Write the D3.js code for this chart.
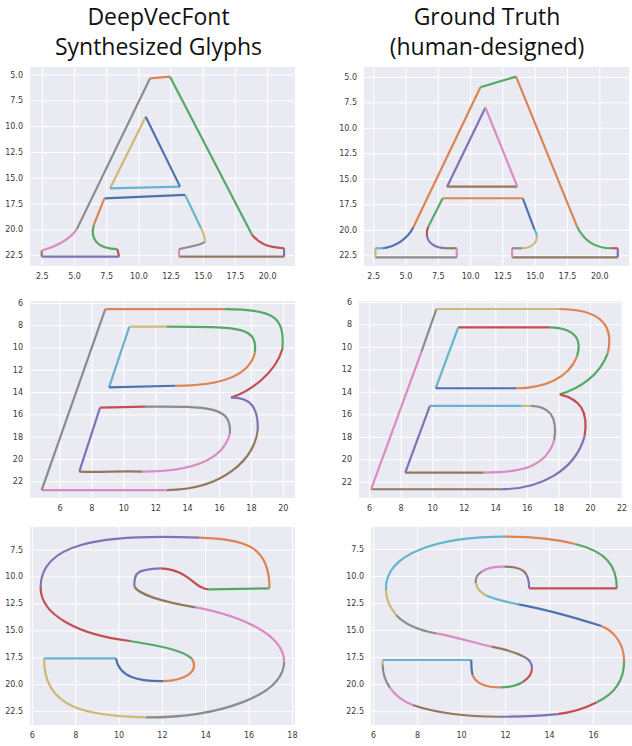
<!DOCTYPE html>
<html>
<head>
<meta charset="utf-8">
<script src="https://cdn.jsdelivr.net/npm/d3@7"></script>
<style>
    body { margin: 0; background: #fff; }
    .tick-label { font-family: "DejaVu Sans", sans-serif; font-size: 8px; fill: #3a3a3a; }
    .title { font-family: "Open Sans", sans-serif; font-size: 23px; fill: #111; }
</style>
</head>
<body>
<div id="chart"></div>
<script>
// seaborn "deep" colour cycle
const palette = ['#4c72b0', '#dd8452', '#55a868', '#c44e52', '#8172b3',
                 '#937860', '#da8bc3', '#8c8c8c', '#ccb974', '#64b5cd'];

const titles = [['DeepVecFont', 'Synthesized Glyphs'], ['Ground Truth', '(human-designed)']];

// outline segments: [colour index, start, (ctrl1, ctrl2,) end]  -- 2 points = line, 4 points = cubic
const synthA = [
    [1, [10.87, 5.32], [12.42, 5.16]],
    [2, [12.42, 5.16], [18.77, 20.43]],
    [3, [18.77, 20.43], [19.3, 21.3], [19.93, 21.68], [21.28, 21.78]],
    [4, [21.28, 21.78], [21.28, 22.6]],
    [5, [21.28, 22.6], [13.12, 22.6]],
    [6, [13.12, 22.6], [13.12, 21.87]],
    [7, [13.12, 21.87], [13.98, 21.6], [15.0, 21.45], [15.14, 21.13]],
    [8, [15.14, 21.13], [15.1, 20.6], [14.95, 20.1], [14.83, 19.84]],
    [9, [14.83, 19.84], [13.59, 16.61]],
    [0, [13.59, 16.61], [7.32, 16.94]],
    [1, [7.32, 16.94], [6.5, 19.52]],
    [2, [6.5, 19.52], [6.2, 20.82], [6.72, 21.87], [8.33, 21.87]],
    [3, [8.33, 21.87], [8.46, 22.6]],
    [4, [8.46, 22.6], [2.45, 22.6]],
    [5, [2.45, 22.6], [2.45, 22.0]],
    [6, [2.45, 22.0], [3.48, 21.7], [4.65, 20.9], [5.17, 19.95]],
    [7, [5.17, 19.95], [10.87, 5.32]],
    [8, [10.53, 9.03], [7.76, 15.97]],
    [9, [7.76, 15.97], [13.2, 15.81]],
    [0, [13.2, 15.81], [10.53, 9.03]]
];

const truthA = [
    [1, [13.52, 4.93], [18.24, 19.64]],
    [2, [18.24, 19.64], [18.81, 21.11], [19.72, 21.76], [20.88, 21.76]],
    [3, [20.88, 21.76], [21.39, 21.76]],
    [4, [21.39, 21.76], [21.39, 22.65]],
    [5, [21.39, 22.65], [13.21, 22.65]],
    [6, [13.21, 22.65], [13.21, 21.76]],
    [7, [13.21, 21.76], [13.98, 21.76]],
    [8, [13.98, 21.76], [14.68, 21.76], [15.12, 21.3], [15.12, 20.6]],
    [9, [15.12, 20.6], [15.12, 20.3], [15.05, 20.1], [14.94, 19.9]],
    [0, [14.94, 19.9], [14.04, 16.86]],
    [1, [14.04, 16.86], [7.84, 16.86]],
    [2, [7.84, 16.86], [6.73, 19.64]],
    [3, [6.73, 19.64], [6.6, 19.95], [6.6, 20.2], [6.62, 20.46]],
    [4, [6.62, 20.46], [6.67, 21.2], [7.2, 21.76], [8.1, 21.76]],
    [5, [8.1, 21.76], [8.93, 21.76]],
    [6, [8.93, 21.76], [8.93, 22.65]],
    [7, [8.93, 22.65], [2.63, 22.65]],
    [8, [2.63, 22.65], [2.63, 21.76]],
    [9, [2.63, 21.76], [3.2, 21.76]],
    [0, [3.2, 21.76], [4.23, 21.6], [5.14, 20.8], [5.57, 19.71]],
    [1, [5.57, 19.71], [10.76, 5.98]],
    [2, [10.76, 5.98], [13.52, 4.93]],
    [4, [11.15, 7.97], [8.18, 15.72]],
    [5, [8.18, 15.72], [13.62, 15.72]],
    [6, [13.62, 15.72], [11.15, 7.97]]
];

const synthB = [
    [1, [8.84, 6.51], [16.34, 6.51]],
    [2, [16.34, 6.51], [19.4, 6.51], [20.1, 7.2], [19.94, 10.1]],
    [3, [19.94, 10.1], [19.5, 12.3], [17.9, 13.9], [16.72, 14.46]],
    [4, [16.72, 14.46], [17.9, 14.4], [18.45, 15.3], [18.39, 17.36]],
    [5, [18.39, 17.36], [18.25, 19.8], [16.3, 22.75], [12.68, 22.75]],
    [6, [12.68, 22.75], [4.85, 22.75]],
    [7, [4.85, 22.75], [8.84, 6.51]],
    [8, [12.68, 8.09], [10.35, 8.09]],
    [9, [10.35, 8.09], [9.07, 13.54]],
    [0, [9.07, 13.54], [13.21, 13.39]],
    [1, [13.21, 13.39], [16.3, 13.4], [17.9, 12.4], [18.22, 10.4]],
    [2, [18.22, 10.4], [18.35, 8.15], [17.5, 8.1], [12.68, 8.09]],
    [3, [11.33, 15.27], [8.51, 15.36]],
    [4, [8.51, 15.36], [7.21, 21.1]],
    [5, [7.21, 21.1], [8.5, 21.2], [9.8, 21.0], [11.18, 21.1]],
    [6, [11.18, 21.1], [14.0, 21.1], [16.2, 20.3], [16.65, 17.66]],
    [7, [16.65, 17.66], [16.75, 15.3], [15.5, 15.22], [11.33, 15.27]]
];

const truthB = [
    [1, [18.01, 6.59], [20.2, 6.6], [21.6, 7.6], [21.09, 10.53]],
    [2, [21.09, 10.53], [20.6, 12.4], [19.4, 13.64], [18.05, 14.18]],
    [3, [18.05, 14.18], [19.3, 14.6], [19.9, 15.6], [19.62, 17.94]],
    [4, [19.62, 17.94], [19.0, 21.0], [16.8, 22.62], [14.28, 22.62]],
    [5, [14.28, 22.62], [6.1, 22.62]],
    [6, [6.1, 22.62], [9.29, 10.39]],
    [7, [9.29, 10.39], [10.24, 6.59]],
    [8, [10.24, 6.59], [18.01, 6.59]],
    [9, [11.62, 8.22], [10.19, 13.64]],
    [0, [10.19, 13.64], [15.29, 13.64]],
    [1, [15.29, 13.64], [17.0, 13.64], [18.6, 12.8], [19.14, 10.83]],
    [2, [19.14, 10.83], [19.45, 9.5], [19.2, 8.3], [17.42, 8.22]],
    [3, [17.42, 8.22], [11.62, 8.22]],
    [4, [9.82, 15.21], [8.26, 21.14]],
    [5, [8.26, 21.14], [13.23, 21.14]],
    [6, [13.23, 21.14], [15.5, 21.14], [17.2, 20.7], [17.7, 18.24]],
    [7, [17.7, 18.24], [17.95, 16.0], [17.3, 15.25], [16.23, 15.21]],
    [8, [16.23, 15.21], [15.64, 15.21]],
    [9, [15.64, 15.21], [9.82, 15.21]]
];

const synthS = [
    [1, [13.69, 6.36], [15.8, 6.55], [16.95, 7.0], [16.94, 11.06]],
    [2, [16.94, 11.06], [14.12, 11.15]],
    [3, [14.12, 11.15], [13.43, 11.06], [13.28, 9.36], [11.92, 9.2]],
    [4, [11.92, 9.2], [10.9, 9.3], [10.66, 9.5], [10.71, 10.9]],
    [5, [10.71, 10.9], [10.9, 11.6], [12.0, 12.3], [13.54, 12.82]],
    [6, [13.54, 12.82], [15.6, 13.6], [17.6, 15.3], [17.62, 17.86]],
    [7, [17.62, 17.86], [17.6, 21.0], [14.6, 23.05], [11.23, 23.03]],
    [8, [11.23, 23.03], [8.6, 22.9], [6.5, 22.3], [6.54, 17.55]],
    [9, [6.54, 17.55], [9.86, 17.55]],
    [0, [9.86, 17.55], [10.0, 19.3], [10.9, 19.7], [12.05, 19.66]],
    [1, [12.05, 19.66], [13.0, 19.6], [13.75, 18.8], [13.35, 17.55]],
    [2, [13.35, 17.55], [12.8, 16.62], [11.43, 16.25], [10.51, 15.94]],
    [3, [10.51, 15.94], [8.2, 15.4], [6.35, 13.6], [6.38, 10.9]],
    [4, [6.38, 10.9], [6.4, 7.0], [9.0, 5.95], [13.69, 6.36]]
];

const truthS = [
    [9, [11.98, 6.33], [9.14, 6.33], [6.48, 7.72], [6.56, 11.26]],
    [1, [11.98, 6.33], [13.23, 6.33], [14.29, 6.55], [15.17, 7.01]],
    [2, [15.17, 7.01], [16.56, 7.7], [17.06, 9.0], [17.06, 11.1]],
    [3, [17.06, 11.1], [13.07, 11.1]],
    [4, [13.07, 11.1], [13.07, 10.6], [13.02, 10.1], [12.95, 9.87]],
    [5, [12.95, 9.87], [12.85, 9.3], [12.47, 9.1], [11.94, 9.1]],
    [6, [11.94, 9.1], [11.41, 9.1], [11.1, 9.25], [10.92, 9.56]],
    [7, [10.92, 9.56], [10.7, 9.8], [10.62, 10.2], [10.65, 10.64]],
    [8, [10.65, 10.64], [10.7, 11.1], [10.85, 11.5], [11.13, 11.78]],
    [9, [11.13, 11.78], [11.6, 12.15], [12.1, 12.4], [12.59, 12.58]],
    [0, [12.59, 12.58], [13.98, 13.1], [15.3, 13.9], [16.36, 14.58]],
    [1, [16.36, 14.58], [16.98, 15.1], [17.39, 16.3], [17.39, 17.82]],
    [2, [17.39, 17.82], [17.39, 19.73], [16.86, 20.96], [16.13, 21.64]],
    [3, [16.13, 21.64], [15.65, 22.13], [15.05, 22.56], [14.36, 22.71]],
    [4, [14.36, 22.71], [13.5, 22.9], [12.6, 22.96], [11.68, 22.96]],
    [5, [11.68, 22.96], [9.89, 22.96], [8.53, 22.4], [7.77, 21.88]],
    [6, [7.77, 21.88], [7.3, 21.5], [6.95, 20.9], [6.74, 20.28]],
    [7, [6.74, 20.28], [6.5, 19.6], [6.41, 18.9], [6.41, 18.12]],
    [8, [6.41, 18.12], [6.41, 17.72]],
    [9, [6.41, 17.72], [10.44, 17.72]],
    [0, [10.44, 17.72], [10.44, 18.4], [10.46, 18.8], [10.5, 19.11]],
    [1, [10.5, 19.11], [10.65, 19.9], [11.1, 20.25], [11.79, 20.25]],
    [2, [11.79, 20.25], [12.2, 20.25], [12.55, 20.05], [12.8, 19.73]],
    [3, [12.8, 19.73], [13.05, 19.4], [13.2, 19.0], [13.2, 18.49]],
    [4, [13.2, 18.49], [13.2, 18.0], [13.1, 17.7], [12.89, 17.48]],
    [5, [12.89, 17.48], [12.5, 17.0], [11.9, 16.7], [11.36, 16.49]],
    [6, [11.36, 16.49], [10.5, 16.1], [9.6, 15.5], [8.83, 15.26]],
    [7, [8.83, 15.26], [8.1, 15.0], [7.4, 14.4], [7.02, 13.57]],
    [8, [7.02, 13.57], [6.75, 12.9], [6.56, 12.2], [6.56, 11.26]]
];

// axis limits and ticks of each panel
const xLims = [[1.54, 22.13], [1.75, 22.26], [4.12, 20.73], [5.33, 22.06], [5.89, 18.12], [5.88, 17.93]];
const yLims = [[4.22, 23.5], [3.99, 23.5], [5.79, 23.46], [5.88, 23.4], [5.37, 23.73], [5.44, 23.72]];
const xTicksA = [2.5, 5, 7.5, 10, 12.5, 15, 17.5, 20];
const yTicksA = [5, 7.5, 10, 12.5, 15, 17.5, 20, 22.5];
const xTicksSynthB = [6, 8, 10, 12, 14, 16, 18, 20];
const xTicksTruthB = [6, 8, 10, 12, 14, 16, 18, 20, 22];
const yTicksB = [6, 8, 10, 12, 14, 16, 18, 20, 22];
const xTicksSynthS = [6, 8, 10, 12, 14, 16, 18];
const xTicksTruthS = [6, 8, 10, 12, 14, 16];
const yTicksS = [7.5, 10, 12.5, 15, 17.5, 20, 22.5];

const width = 632, height = 746;

// pixel boxes of the six axes
const panels = [
    {glyph: synthA, box: [30, 295, 67, 266], xt: xTicksA, yt: yTicksA, xf: '.1f', yf: '.1f'},
    {glyph: truthA, box: [364, 629, 67, 266], xt: xTicksA, yt: yTicksA, xf: '.1f', yf: '.1f'},
    {glyph: synthB, box: [30, 295, 301, 498], xt: xTicksSynthB, yt: yTicksB, xf: 'd', yf: 'd'},
    {glyph: truthB, box: [359, 623, 301, 498], xt: xTicksTruthB, yt: yTicksB, xf: 'd', yf: 'd'},
    {glyph: synthS, box: [30, 295, 527, 725], xt: xTicksSynthS, yt: yTicksS, xf: 'd', yf: '.1f'},
    {glyph: truthS, box: [371, 636, 527, 725], xt: xTicksTruthS, yt: yTicksS, xf: 'd', yf: '.1f'}
];

const svg = d3.select('#chart').append('svg')
    .attr('width', width)
    .attr('height', height);

// column titles
const titleX = [158.5, 487];
titles.forEach((lines, i) => {
    lines.forEach((t, j) => {
        svg.append('text')
            .attr('class', 'title')
            .attr('x', titleX[i])
            .attr('y', 25 + j * 30)
            .attr('text-anchor', 'middle')
            .text(t);
    });
});

panels.forEach((p, i) => {
    const [left, right, top, bottom] = p.box;
    const x = d3.scaleLinear().domain(xLims[i]).range([left, right]);
    const y = d3.scaleLinear().domain(yLims[i]).range([top, bottom]); // inverted y, like the glyph coords

    const g = svg.append('g');

    g.append('rect')
        .attr('x', left).attr('y', top)
        .attr('width', right - left).attr('height', bottom - top)
        .attr('fill', '#eaeaf2');

    // grid
    g.selectAll('.gx').data(p.xt).join('line')
        .attr('x1', d => x(d)).attr('x2', d => x(d))
        .attr('y1', top).attr('y2', bottom)
        .attr('stroke', '#fff').attr('stroke-width', 1);
    g.selectAll('.gy').data(p.yt).join('line')
        .attr('class', 'gy')
        .attr('y1', d => y(d)).attr('y2', d => y(d))
        .attr('x1', left).attr('x2', right)
        .attr('stroke', '#fff').attr('stroke-width', 1);

    // tick labels
    g.selectAll('.xl').data(p.xt).join('text')
        .attr('class', 'tick-label')
        .attr('x', d => x(d))
        .attr('y', bottom + 13)
        .attr('text-anchor', 'middle')
        .text(d => d3.format(p.xf)(d));
    g.selectAll('.yl').data(p.yt).join('text')
        .attr('class', 'tick-label')
        .attr('x', left - 7)
        .attr('y', d => y(d))
        .attr('dy', '0.32em')
        .attr('text-anchor', 'end')
        .text(d => d3.format(p.yf)(d));

    // glyph outline
    g.selectAll('.seg').data(p.glyph).join('path')
        .attr('d', seg => {
            const pts = seg.slice(1).map(q => [x(q[0]), y(q[1])]);
            const path = d3.path();
            path.moveTo(pts[0][0], pts[0][1]);
            if (pts.length === 2) path.lineTo(pts[1][0], pts[1][1]);
            else path.bezierCurveTo(pts[1][0], pts[1][1], pts[2][0], pts[2][1], pts[3][0], pts[3][1]);
            return path.toString();
        })
        .attr('fill', 'none')
        .attr('stroke', seg => palette[seg[0]])
        .attr('stroke-width', 2.2);
});
</script>
</body>
</html>
